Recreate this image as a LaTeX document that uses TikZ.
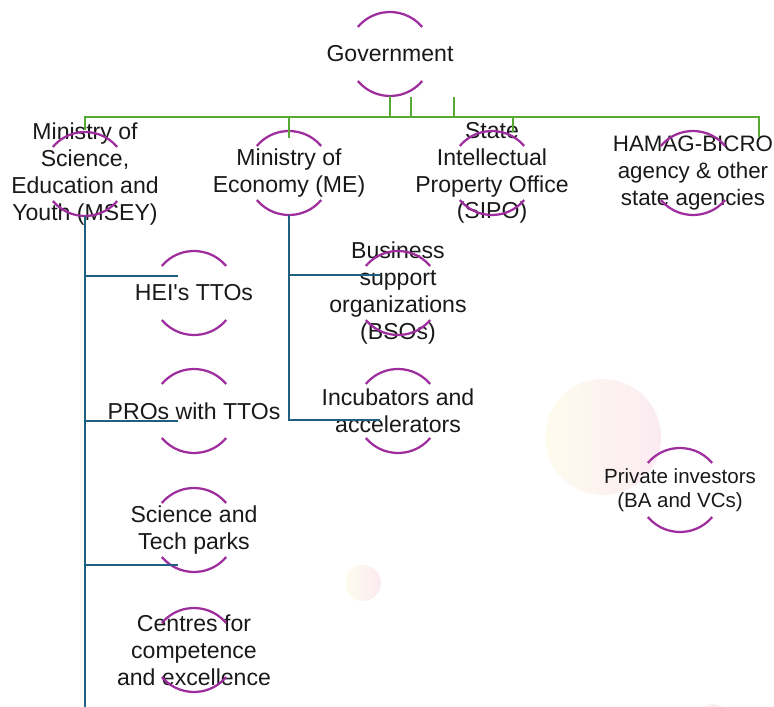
\documentclass[tikz,border=0pt]{standalone}
\usepackage{fontspec}
\setmainfont{Liberation Sans}
\definecolor{govgreen}{RGB}{86,170,52}
\definecolor{treeblue}{RGB}{31,95,128}
\definecolor{ringpurple}{RGB}{158,45,158}
\definecolor{blobcream}{RGB}{254,252,238}
\definecolor{blobpink}{RGB}{251,234,242}
\begin{document}
\begin{tikzpicture}[x=0.025cm,y=-0.025cm,
  unit/.style={align=center,inner sep=0pt,text=black!90,font={\fontsize{16.4}{19.1}\selectfont}},
  smallunit/.style={align=center,inner sep=0pt,text=black!90,font={\fontsize{14.6}{17}\selectfont}},
  ring/.style={draw=ringpurple,line width=1.6pt},
  govline/.style={draw=govgreen,line width=1.9pt},
  treeline/.style={draw=treeblue,line width=1.7pt}]

\useasboundingbox (0,0) rectangle (774,707);

% faint blobs in the back
\shade[left color=blobcream,right color=blobpink] (603,437) circle[radius=1.45cm];
\shade[left color=blobcream,right color=blobpink] (363,583) circle[radius=0.45cm];
\shade[left color=blobpink!60,right color=blobpink] (713,720) circle[radius=0.4cm];

% top level
\node[unit] (gov) at (390,54) {Government};

\node[unit] (msey) at (85,174) {Ministry of\\Science,\\Education and\\Youth (MSEY)};
\node[unit] (me) at (289,173) {Ministry of\\Economy (ME)};
\node[unit] (sipo) at (492,173) {State\\Intellectual\\Property Office\\(SIPO)};
\node[unit,font={\fontsize{15.9}{19.1}\selectfont}] (hamag) at (693,173) {HAMAG-BICRO\\agency \& other\\state agencies};

% under MSEY
\node[unit] (hei) at (194,293) {HEI\textquotesingle s TTOs};
\node[unit] (pro) at (194,411) {PROs with TTOs};
\node[unit] (sci) at (194,530) {Science and\\Tech parks};
\node[unit] (cen) at (194,650) {Centres for\\competence\\and excellence};

% under ME
\node[unit] (bso) at (398,293) {Business\\support\\organizations\\(BSOs)};
\node[unit] (inc) at (398,411) {Incubators and\\accelerators};

\node[smallunit] (priv) at (680,490) {Private investors\\(BA and VCs)};

% rings round every unit
\foreach \n in {gov,msey,me,sipo,hamag,hei,pro,sci,cen,bso,inc,priv}{
  \draw[ring] ([shift={(40:1.05cm)}]\n.center) arc[start angle=40,end angle=140,radius=1.05cm];
  \draw[ring] ([shift={(220:1.05cm)}]\n.center) arc[start angle=220,end angle=320,radius=1.05cm];
}

% green links from government
\coordinate (bus) at (390,117);
\coordinate (msey-top) at (85,130);
\coordinate (me-top) at (289,138);
\coordinate (sipo-top) at (513,132);
\coordinate (hamag-top) at (759,137);
\draw[govline] ([yshift=-1.05cm]gov.center) -- (bus);
\draw[govline] ([xshift=0.525cm,yshift=-1.08cm]gov.center) |- (bus);
\draw[govline] ([xshift=1.6cm,yshift=-1.08cm]gov.center) |- (bus);
\draw[govline] (bus) -| (msey-top);
\draw[govline] (bus) -| (me-top);
\draw[govline] (bus) -| (sipo-top);
\draw[govline] (bus) -| (hamag-top);

% blue links
\coordinate (msey-foot) at (85,707);
\coordinate (hei-in) at (178,276);
\coordinate (pro-in) at (178,421);
\coordinate (sci-in) at (178,565);
\coordinate (bso-in) at (380,275);
\coordinate (inc-in) at (380,420);
\draw[treeline] ([yshift=-1.05cm]msey.center) -- (msey-foot);
\draw[treeline] ([yshift=-1.05cm]msey.center) |- (hei-in);
\draw[treeline] ([yshift=-1.05cm]msey.center) |- (pro-in);
\draw[treeline] ([yshift=-1.05cm]msey.center) |- (sci-in);
\draw[treeline] ([yshift=-1.05cm]me.center) |- (bso-in);
\draw[treeline] ([yshift=-1.05cm]me.center) |- (inc-in);

\end{tikzpicture}
\end{document}
